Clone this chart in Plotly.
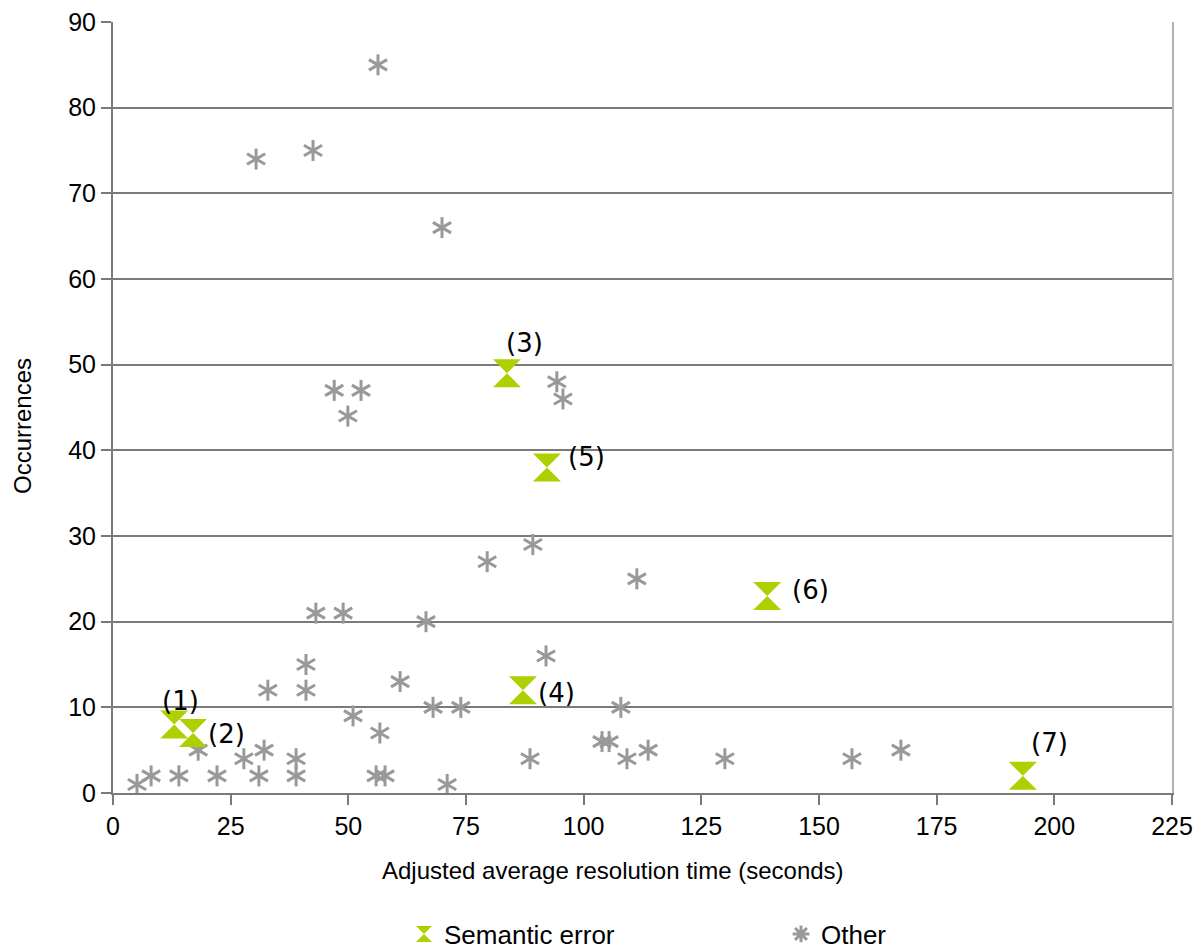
import plotly.graph_objects as go

# ---- data ----
sem_x = [13.0, 17.0, 83.7, 87.1, 92.2, 139.0, 193.3]
sem_y = [8, 7, 49, 12, 38, 23, 2]
sem_labels = ["(1)", "(2)", "(3)", "(4)", "(5)", "(6)", "(7)"]

other_x = [5.1, 8.1, 14.0, 18.1, 22.1, 27.8, 31.0, 32.1, 32.9, 38.9, 38.9, 41.0, 41.0,
           43.1, 48.9, 51.0, 55.9, 57.8, 56.7, 61.0, 66.5, 68.0, 71.0, 73.9, 79.5,
           88.6, 89.2, 92.0, 94.3, 95.6, 103.9, 105.4, 107.9, 109.2, 111.3, 113.7,
           130.0, 157.0, 167.4, 47.0, 52.7, 49.9, 30.4, 42.5, 56.3, 69.9]
other_y = [1, 2, 2, 5, 2, 4, 2, 5, 12, 4, 2, 15, 12,
           21, 21, 9, 2, 2, 7, 13, 20, 10, 1, 10, 27,
           4, 29, 16, 48, 46, 6, 6, 10, 4, 25, 5,
           4, 4, 5, 47, 47, 44, 74, 75, 85, 66]

x_ticks = [0, 25, 50, 75, 100, 125, 150, 175, 200, 225]
y_ticks = [0, 10, 20, 30, 40, 50, 60, 70, 80, 90]

# label offsets (style, px)
lab_dx = [6, 33, 18, 34, 40, 43, 27]
lab_dy = [23, -1, 30, -3, 10, 6, 33]

GREEN = "#aecf00"
GRAY = "#999999"
GRID = "#7a7a7a"

fig = go.Figure()

# "Other" series drawn as 6-armed asterisks (three rotated line markers)
for ang in (0, 60, 120):
    fig.add_trace(go.Scatter(
        x=other_x, y=other_y, mode="markers", showlegend=False, hoverinfo="x+y",
        marker=dict(symbol="line-ns-open", size=15, angle=ang,
                    line=dict(color=GRAY, width=3), color=GRAY),
    ))

# legend entry for Other
fig.add_trace(go.Scatter(
    x=[None], y=[None], mode="markers", name="Other", legendrank=2,
    marker=dict(symbol="asterisk-open", size=14, line=dict(color=GRAY, width=3), color=GRAY),
))

fig.add_trace(go.Scatter(
    x=sem_x, y=sem_y, mode="markers", name="Semantic error", legendrank=1,
    marker=dict(symbol="hourglass", size=28, color=GREEN, line=dict(width=0)),
))

for x, y, t, dx, dy in zip(sem_x, sem_y, sem_labels, lab_dx, lab_dy):
    fig.add_annotation(x=x, y=y, text=t, showarrow=False, xshift=dx, yshift=dy,
                       font=dict(family="DejaVu Sans", size=26, color="#000000"))

fig.add_annotation(text="Occurrences", xref="paper", yref="paper",
                   x=(22 - 113) / 1059, y=(793 - 426) / 771, textangle=-90,
                   showarrow=False, xanchor="center", yanchor="middle",
                   font=dict(family="Liberation Sans", size=24, color="#000000"))
fig.add_annotation(text="Adjusted average resolution time (seconds)", xref="paper", yref="paper",
                   x=(613 - 113) / 1059, y=(793 - 870) / 771,
                   showarrow=False, xanchor="center", yanchor="middle",
                   font=dict(family="Liberation Sans", size=24, color="#000000"))

fig.update_layout(
    width=1204, height=949,
    margin=dict(l=113, r=32, t=22, b=156, autoexpand=False),
    paper_bgcolor="white", plot_bgcolor="white",
    font=dict(family="Liberation Sans", size=24, color="#000000"),
    showlegend=True,
    legend=dict(orientation="h", xref="container", yref="container",
                x=404 / 1204, xanchor="left",
                y=1 - 934 / 949, yanchor="middle",
                entrywidth=332, font=dict(size=26, family="Liberation Sans"),
                bgcolor="rgba(0,0,0,0)"),
    xaxis=dict(range=[0, 225], tickvals=x_ticks, ticktext=[str(v) for v in x_ticks],
               showgrid=False, zeroline=False, showline=True, linecolor=GRID, linewidth=2,
               ticks="outside", ticklen=10, tickwidth=2, tickcolor=GRID,
               tickfont=dict(size=25), automargin=False),
    yaxis=dict(range=[0, 90], tickvals=y_ticks, ticktext=[str(v) for v in y_ticks],
               showgrid=True, gridcolor=GRID, gridwidth=2, zeroline=False,
               showline=True, linecolor=GRID, linewidth=2,
               ticks="outside", ticklen=10, tickwidth=2, tickcolor=GRID,
               tickfont=dict(size=25), automargin=False),
    yaxis2=dict(range=[0, 90], overlaying="y", side="right", showline=True,
                linecolor="#b3b3b3", linewidth=2, showgrid=False, zeroline=False,
                showticklabels=False, ticks="", automargin=False),
)
# attach an invisible trace so yaxis2 renders
fig.add_trace(go.Scatter(x=[None], y=[None], yaxis="y2", showlegend=False, hoverinfo="skip"))

fig.write_html("out.html")
